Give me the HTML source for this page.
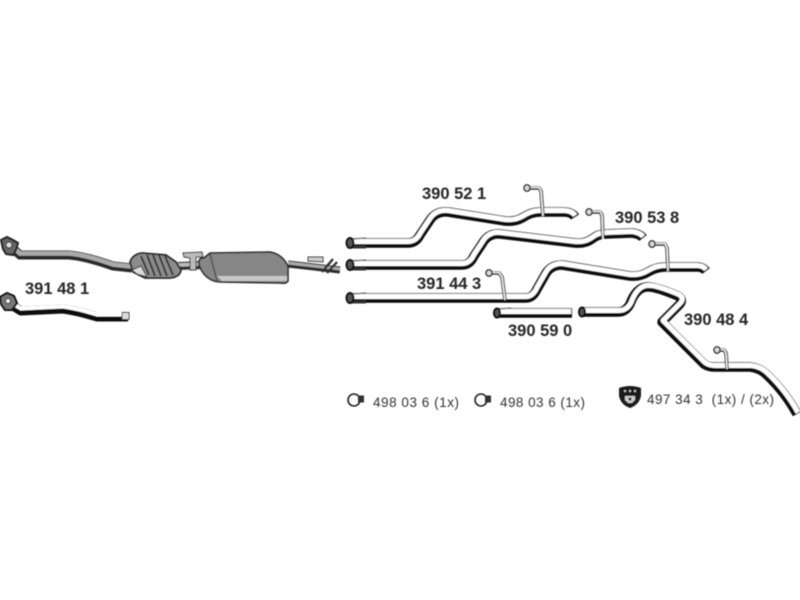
<!DOCTYPE html>
<html><head><meta charset="utf-8"><style>
html,body{margin:0;padding:0;background:#fff;width:800px;height:600px;overflow:hidden}
svg{display:block}
.b{font:bold 16.5px "Liberation Sans",sans-serif;fill:#262626}
.s{font:13.5px "Liberation Sans",sans-serif;fill:#333}
.k{fill:none;stroke:#0c0c0c;stroke-width:9.5;stroke-linejoin:round;stroke-linecap:butt}
.w{fill:none;stroke:#fff;stroke-width:5;stroke-linejoin:round;stroke-linecap:butt}
.t{fill:none;stroke:#333;stroke-width:3.6;stroke-linejoin:round}
.u{fill:none;stroke:#eee;stroke-width:1.6;stroke-linejoin:round}
</style></head><body>
<svg width="800" height="600" viewBox="0 0 800 600" xmlns="http://www.w3.org/2000/svg">
<defs><filter id="f" x="-5%" y="-5%" width="110%" height="110%"><feGaussianBlur stdDeviation="0.55"/></filter></defs>
<rect width="800" height="600" fill="#fff"/>
<g filter="url(#f)">
<!-- left assembly -->
<path d="M10 246 L20 255 L68 255 Q85 256 113 266 L132 268" fill="none" stroke="#2a2a2a" stroke-width="9"/>
<path d="M10 245 L20 253.500 L68 253.500 Q85 254.500 113 264.500 L132 266.500" fill="none" stroke="#aaa" stroke-width="4.500"/>
<path d="M178 266 L204 265" fill="none" stroke="#333" stroke-width="8"/>
<path d="M178 265 L204 264" fill="none" stroke="#bbb" stroke-width="3.500"/>
<path d="M130 262 Q133 254 142 253 L166 255 L176 262 L181 270 Q180 277 170 278 L145 278 L133 272 Z" fill="#8c8c8c" stroke="#2a2a2a" stroke-width="1.800"/>
<path d="M132 270 L141 266 L147 277 L137 274 Z" fill="#ddd" stroke="#333"/>
<path d="M141 256 L149 275 M147 255 L155 276 M153 255 L161 276 M159 255 L167 276 M165 256 L173 275" stroke="#333" stroke-width="1.800" fill="none"/>
<path d="M183 253 L202 252 L203 257 L196 257 L196 270 L190 270 L190 258 L184 257 Z" fill="#bbb" stroke="#333"/>
<path d="M199 265 Q198 257 204 258 L210 253 L270 252 Q282 254 288 266 L288 281 Q286 284 280 283 L220 282 Q205 281 199 265 Z" fill="#868686" stroke="#2a2a2a" stroke-width="1.600"/>
<path d="M217 276 L287 276 L287 281 L222 281 Z" fill="#c8c8c8"/>
<path d="M210 254 Q213 266 217 281" stroke="#333" stroke-width="1" fill="none"/>
<path d="M288 264 L340 270" stroke="#2a2a2a" stroke-width="7" fill="none"/>
<path d="M288 263 L340 269" stroke="#aaa" stroke-width="3" fill="none"/>
<path d="M308 257 L323 257 L323 262 L308 261 Z" fill="#ccc" stroke="#333"/>
<path d="M322 272 L333 259 M327 273 L337 262" stroke="#333" stroke-width="2.400" fill="none"/>
<!-- left flange -->
<path d="M1 240 L7 237 L13 240 L18 243 L16 250 L13 255 L6 254 L3 249 Z" fill="#666" stroke="#222" stroke-width="2"/>
<circle cx="9" cy="245" r="3" fill="#ddd" stroke="#222"/>

<!-- lower left pipe -->
<path d="M13 306 L21 311 L63 309 Q78 311 97 317 L128 317" class="k" style="stroke-width:9"/>
<path d="M13 304 L21 308.500 L63 306.500 Q78 308.500 97 314.500 L128 314.500" class="w" style="stroke-width:4"/>
<rect x="122" y="312.500" width="7" height="7" fill="#ddd" stroke="#333"/>
<path d="M0 297 L7 293 L14 296 L17 303 L12 310 L5 310 L1 304 Z" fill="#777" stroke="#111" stroke-width="2"/>
<circle cx="8" cy="301" r="2.500" fill="#eee" stroke="#111"/>

<!-- 390 52 1 -->
<path class="k" d="M348 243 L408 243 Q416 243 420 235 L430 220 Q436 211 448 212 L505 221 Q515 222 522 218 Q531 212 540 212 L563 212 Q572 212 575 217"/>
<path class="w" transform="translate(0,-1.500)" d="M348 243 L408 243 Q416 243 420 235 L430 220 Q436 211 448 212 L505 221 Q515 222 522 218 Q531 212 540 212 L563 212 Q572 212 575 217"/>
<!-- 390 53 8 -->
<path class="k" d="M348 265 L462 265 Q470 265 474 256 L482 244 Q488 233 500 234 L575 243 Q585 244 592 239 Q598 234 606 234 L632 233 Q640 234 643 238"/>
<path class="w" transform="translate(0,-1.500)" d="M348 265 L462 265 Q470 265 474 256 L482 244 Q488 233 500 234 L575 243 Q585 244 592 239 Q598 234 606 234 L632 233 Q640 234 643 238"/>
<!-- 391 44 3 -->
<path class="k" d="M348 298 L526 298 Q533 298 537 289 L545 275 Q550 265 562 265 L630 276 Q640 277 648 272 Q656 267 666 267 L697 267 Q703 267 706 271"/>
<path class="w" transform="translate(0,-1.500)" d="M348 298 L526 298 Q533 298 537 289 L545 275 Q550 265 562 265 L630 276 Q640 277 648 272 Q656 267 666 267 L697 267 Q703 267 706 271"/>
<!-- 390 59 0 -->
<path class="k" d="M495 313 L572 313"/>
<path class="w" transform="translate(0,-1.500)" d="M495 313 L571 313"/>
<!-- 390 48 4 -->
<path class="k" d="M580 312 L618 312 Q626 312 630 304 Q636 288 646 287 Q654 286 678 296 Q684 300 679 305 L662 322 L704 364 Q708 367 714 367 L750 367 Q760 368 767 375 Q785 392 797 414"/>
<path class="w" transform="translate(1,-1.500)" d="M580 312 L618 312 Q626 312 630 304 Q636 288 646 287 Q654 286 678 296 Q684 300 679 305 L662 322 L704 364 Q708 367 714 367 L750 367 Q760 368 767 375 Q785 392 797 414"/>

<!-- pipe ends with collars -->
<path d="M352 247 L366 247 M352 269 L366 269 M352 302 L366 302" stroke="#333" stroke-width="3" fill="none"/>
<g fill="#555" stroke="#111" stroke-width="2">
<ellipse cx="350" cy="243" rx="3.500" ry="5"/>
<ellipse cx="350" cy="265" rx="3.500" ry="5"/>
<ellipse cx="350" cy="298" rx="3.500" ry="5"/>
<ellipse cx="497" cy="313" rx="3" ry="4.500"/>
<ellipse cx="582" cy="312" rx="3" ry="4.500"/>
</g>
<path d="M353 239 L366 238 M353 261 L366 260 M353 294 L366 293 M500 309 L511 308" stroke="#666" stroke-width="1.200" fill="none"/>

<!-- hangers -->
<path class="t" d="M527 188 L539 188 L541 191 L543 216"/><path class="u" d="M527 187.500 L539 187.500 L541 191 L543 216"/>
<path class="t" d="M589 212 L600 212 L602 215 L603 239"/><path class="u" d="M589 211.500 L600 211.500 L602 215 L603 239"/>
<path class="t" d="M652 244 L665 244 L667 248 L668 271"/><path class="u" d="M652 243.500 L665 243.500 L667 248 L668 271"/>
<path class="t" d="M489 273 L499 273 L502 277 L505 300"/><path class="u" d="M489 272.500 L499 272.500 L502 277 L505 300"/>
<path class="t" d="M717 350 L724 350 L726 353 L727 369"/><path class="u" d="M717 349.500 L724 349.500 L726 353 L727 369"/>
<g fill="#ddd" stroke="#222" stroke-width="1.400">
<ellipse cx="527" cy="188" rx="3" ry="3.200"/><ellipse cx="589" cy="212" rx="3" ry="3.200"/><ellipse cx="652" cy="244" rx="3" ry="3.200"/><ellipse cx="489" cy="273" rx="3" ry="3.200"/><ellipse cx="717" cy="350" rx="3" ry="3.200"/>
</g>

<!-- clamps -->
<circle cx="354" cy="400" r="6" fill="none" stroke="#222" stroke-width="1.600"/>
<rect x="358" y="395.500" width="6" height="7" fill="#333"/>
<circle cx="481" cy="400" r="6" fill="none" stroke="#222" stroke-width="1.600"/>
<rect x="485" y="395.500" width="6" height="7" fill="#333"/>
<!-- shield mount -->
<path d="M619 388 Q630 384 641 388 L641 396 Q639 405 630 408 Q621 405 619 396 Z" fill="#1c1c1c"/>
<circle cx="625" cy="391" r="1.100" fill="#ccc"/><circle cx="630" cy="391" r="1.100" fill="#ccc"/><circle cx="635" cy="391" r="1.100" fill="#ccc"/>
<path d="M625 396 L635 396 L635 400 L632 403 L628 403 L625 400 Z" fill="#ccc"/>
<circle cx="630" cy="399" r="1.500" fill="#222"/>
</g>

<g filter="url(#f)">
<text class="b" x="422" y="199">390 52 1</text>
<text class="b" x="25" y="294">391 48 1</text>
<text class="b" x="615" y="223">390 53 8</text>
<text class="b" x="417" y="289">391 44 3</text>
<text class="b" x="508" y="336">390 59 0</text>
<text class="b" x="684" y="325">390 48 4</text>
<text class="s" x="373" y="407" textLength="86" lengthAdjust="spacing">498 03 6 (1x)</text>
<text class="s" x="500" y="407" textLength="85" lengthAdjust="spacing">498 03 6 (1x)</text>
<text class="s" x="647" y="404" textLength="127" lengthAdjust="spacing" xml:space="preserve">497 34 3  (1x) / (2x)</text>
</g>
</svg>
</body></html>
